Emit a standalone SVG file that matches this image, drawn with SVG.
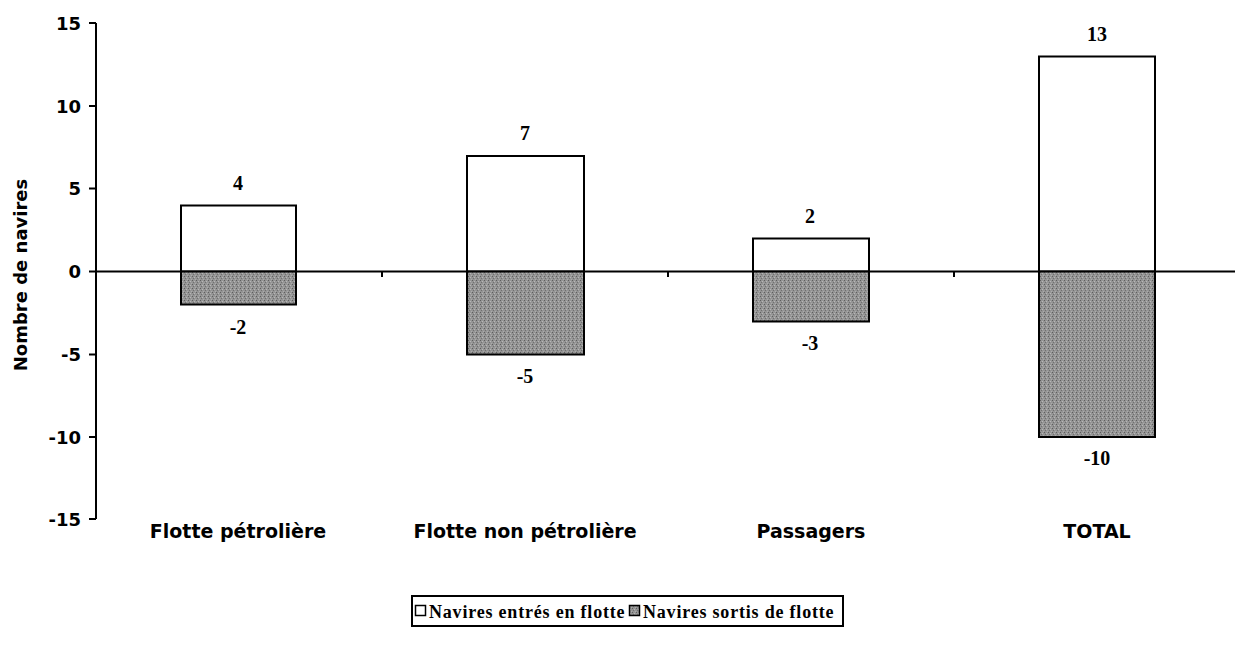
<svg xmlns="http://www.w3.org/2000/svg" width="1235" height="656" viewBox="0 0 1235 656">
<style>
.ax{stroke:#000;stroke-width:2;fill:none}
.tk{font-family:"DejaVu Sans","Liberation Sans",Arial,sans-serif;font-weight:bold;font-size:18px;fill:#000}
.cat{font-family:"DejaVu Sans","Liberation Sans",Arial,sans-serif;font-weight:bold;font-size:19px;fill:#000;text-anchor:middle}
.val{font-family:"Liberation Serif","Times New Roman",serif;font-weight:bold;font-size:20px;fill:#000;text-anchor:middle}
.pos{fill:#fff;stroke:#000;stroke-width:2}
.neg{fill:url(#dith);stroke:#000;stroke-width:2}
.leg{font-family:"Liberation Serif","Times New Roman",serif;font-weight:bold;font-size:18px;letter-spacing:0.8px;fill:#000}
</style>
<defs>
<pattern id="dith" width="4" height="4" patternUnits="userSpaceOnUse">
<rect width="4" height="4" fill="#949494"/>
<rect x="0" y="0" width="1" height="1" fill="#5e5e5e"/>
<rect x="2" y="1" width="1" height="1" fill="#b8b8b8"/>
<rect x="1" y="2" width="1" height="1" fill="#707070"/>
<rect x="3" y="3" width="1" height="1" fill="#acacac"/>
</pattern>
</defs>
<rect width="1235" height="656" fill="#fff"/>
<g id="axes">
<line class="ax" x1="96" y1="23" x2="96" y2="519"/>
<line class="ax" x1="89" y1="23" x2="96" y2="23"/>
<line class="ax" x1="89" y1="106" x2="96" y2="106"/>
<line class="ax" x1="89" y1="188.5" x2="96" y2="188.5"/>
<line class="ax" x1="89" y1="271.5" x2="96" y2="271.5"/>
<line class="ax" x1="89" y1="354.5" x2="96" y2="354.5"/>
<line class="ax" x1="89" y1="437" x2="96" y2="437"/>
<line class="ax" x1="89" y1="519" x2="96" y2="519"/>
<line class="ax" x1="96" y1="271.5" x2="1235" y2="271.5"/>
<line class="ax" x1="382" y1="271.5" x2="382" y2="277"/>
<line class="ax" x1="668" y1="271.5" x2="668" y2="277"/>
<line class="ax" x1="954" y1="271.5" x2="954" y2="277"/>
<g text-anchor="end">
<text class="tk" x="81" y="30">15</text>
<text class="tk" x="81" y="113">10</text>
<text class="tk" x="81" y="195">5</text>
<text class="tk" x="81" y="278">0</text>
<text class="tk" x="81" y="361">-5</text>
<text class="tk" x="81" y="444">-10</text>
<text class="tk" x="81" y="526">-15</text>
</g>
<text class="tk" transform="translate(27,275) rotate(-90)" text-anchor="middle" font-size="15">Nombre de navires</text>
</g>
<g id="bars">
<rect class="pos" x="181" y="205.5" width="115" height="66"/>
<rect class="neg" x="181" y="271.5" width="115" height="33"/>
<rect class="pos" x="467" y="156" width="117" height="115.5"/>
<rect class="neg" x="467" y="271.5" width="117" height="83"/>
<rect class="pos" x="753" y="238.5" width="116" height="33"/>
<rect class="neg" x="753" y="271.5" width="116" height="50"/>
<rect class="pos" x="1039" y="56.5" width="116" height="215"/>
<rect class="neg" x="1039" y="271.5" width="116" height="165.5"/>
</g>
<g id="values">
<text class="val" x="238" y="190">4</text>
<text class="val" x="238" y="334">-2</text>
<text class="val" x="525" y="140">7</text>
<text class="val" x="525" y="383">-5</text>
<text class="val" x="810" y="223">2</text>
<text class="val" x="810" y="350">-3</text>
<text class="val" x="1097" y="41">13</text>
<text class="val" x="1097" y="465">-10</text>
</g>
<g id="categories">
<text class="cat" x="238" y="538">Flotte pétrolière</text>
<text class="cat" x="525" y="538">Flotte non pétrolière</text>
<text class="cat" x="811" y="538">Passagers</text>
<text class="cat" x="1097" y="538">TOTAL</text>
</g>
<g id="legend">
<rect x="412" y="596" width="431" height="30" fill="#fff" stroke="#000" stroke-width="2"/>
<rect x="415.5" y="605.5" width="10" height="10" fill="#fff" stroke="#000" stroke-width="1.5"/>
<text class="leg" x="429" y="618">Navires entrés en flotte</text>
<rect x="629.5" y="605.5" width="10" height="10" fill="url(#dith)" stroke="#000" stroke-width="1.5"/>
<text class="leg" x="643" y="618">Navires sortis de flotte</text>
</g>
</svg>
